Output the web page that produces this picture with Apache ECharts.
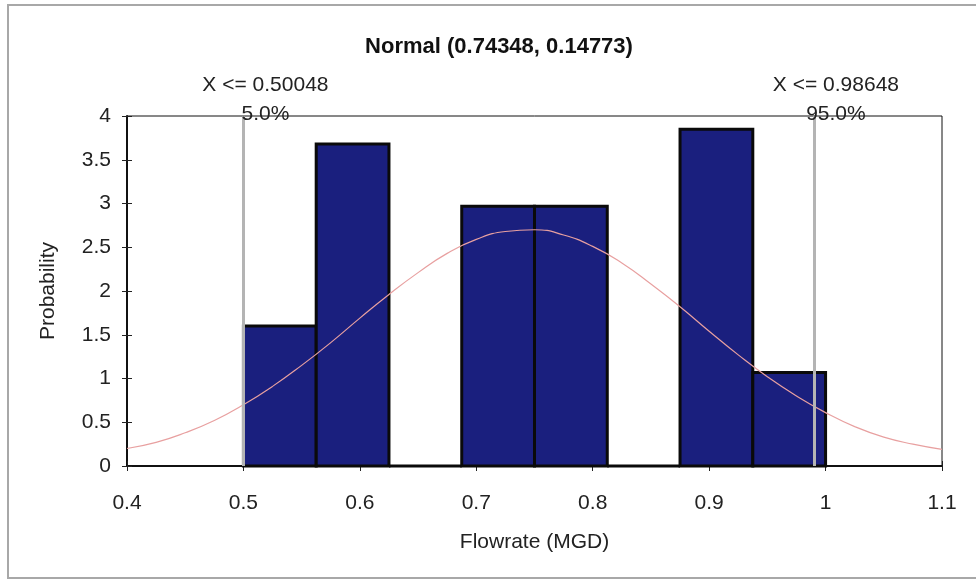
<!DOCTYPE html>
<html>
<head>
<meta charset="utf-8">
<script src="https://cdn.jsdelivr.net/npm/echarts@6/dist/echarts.min.js"></script>
<style>
  html, body { margin: 0; padding: 0; background: #fff; }
  #chart { width: 976px; height: 581px; }
</style>
</head>
<body>
<div id="chart"></div>
<script>
// histogram bins (edges) and their probability density
var binEdges = [0.5, 0.5625, 0.625, 0.6875, 0.75, 0.8125, 0.875, 0.9375, 1.0];
var binProb = [1.6, 3.68, 0, 2.97, 2.97, 0, 3.85, 1.07];

// fitted normal curve
var curveX = [0.4, 0.425, 0.45, 0.475, 0.5, 0.525, 0.55, 0.575, 0.6, 0.625, 0.65, 0.675, 0.7, 0.725,
  0.75, 0.775, 0.8, 0.825, 0.85, 0.875, 0.9, 0.925, 0.95, 0.975, 1.0, 1.025, 1.05, 1.075, 1.1];
var curveY = [0.2, 0.27, 0.38, 0.52, 0.7, 0.91, 1.15, 1.41, 1.69, 1.96, 2.21, 2.43, 2.59, 2.68,
  2.7, 2.64, 2.51, 2.32, 2.08, 1.82, 1.54, 1.27, 1.02, 0.8, 0.61, 0.45, 0.33, 0.25, 0.19];

// percentile cut lines
var cutX = [0.50048, 0.98648];
var cutLabels = ["X <= 0.50048\n5.0%", "X <= 0.98648\n95.0%"];

var chart = echarts.init(document.getElementById("chart"));

var bins = binProb.map(function (p, i) {
  return [binEdges[i], binEdges[i + 1], p];
});
var curve = curveX.map(function (x, i) {
  return [x, curveY[i]];
});

var font = "Liberation Sans, Arial, sans-serif";

chart.setOption({
  animation: false,
  textStyle: { fontFamily: font },
  title: {
    text: "Normal (0.74348, 0.14773)",
    left: 494,
    textAlign: "center",
    top: 31,
    textStyle: { fontSize: 22, fontWeight: "bold", color: "#111", fontFamily: font },
  },
  graphic: [
    {
      type: "rect",
      shape: { x: 8, y: 5, width: 1000, height: 573 },
      style: { fill: null, stroke: "#a8a8a8", lineWidth: 2 },
      silent: true,
      z: -10,
    },
  ],
  grid: {
    left: 127,
    right: 34,
    top: 116,
    bottom: 115,
    show: true,
    borderColor: "#111",
    borderWidth: 1,
  },
  xAxis: [
    {
      type: "value",
      min: 0.4,
      max: 1.1,
      interval: 0.1,
      name: "Flowrate (MGD)",
      nameLocation: "middle",
      nameGap: 66,
      nameTextStyle: { fontSize: 21, color: "#222" },
      axisLine: { lineStyle: { color: "#111", width: 2 } },
      axisTick: { length: 5, lineStyle: { color: "#222" } },
      axisLabel: {
        fontSize: 21,
        color: "#222",
        margin: 27,
        formatter: function (v) { return +v.toFixed(1) + ""; },
      },
      splitLine: { show: false },
    },
    {
      type: "value",
      position: "bottom",
      min: 0.4,
      max: 1.1,
      interval: 0.1,
      axisLine: { show: false },
      axisTick: { inside: true, length: 5, lineStyle: { color: "#222" } },
      axisLabel: { show: false },
      splitLine: { show: false },
    },
  ],
  yAxis: [
    {
      type: "value",
      min: 0,
      max: 4,
      interval: 0.5,
      name: "Probability",
      nameLocation: "middle",
      nameGap: 68,
      nameTextStyle: { fontSize: 21, color: "#222" },
      axisLine: { show: true, lineStyle: { color: "#111", width: 2 } },
      axisTick: { show: true, length: 5, lineStyle: { color: "#222" } },
      axisLabel: { fontSize: 21, color: "#222", margin: 16 },
      splitLine: { show: false },
    },
    {
      type: "value",
      position: "left",
      min: 0,
      max: 4,
      interval: 0.5,
      axisLine: { show: false },
      axisTick: { show: true, inside: true, length: 5, lineStyle: { color: "#222" } },
      axisLabel: { show: false },
      splitLine: { show: false },
    },
  ],
  series: [
    {
      type: "custom",
      name: "histogram",
      data: bins,
      encode: { x: [0, 1], y: 2 },
      renderItem: function (params, api) {
        var p0 = api.coord([api.value(0), api.value(2)]);
        var p1 = api.coord([api.value(1), 0]);
        return {
          type: "rect",
          shape: { x: p0[0], y: p0[1], width: p1[0] - p0[0], height: p1[1] - p0[1] },
          style: { fill: "#1a1f7e", stroke: "#0a0a0a", lineWidth: 3 },
        };
      },
      z: 2,
    },
    {
      type: "line",
      name: "Normal",
      data: curve,
      smooth: true,
      symbol: "none",
      lineStyle: { color: "#e8a0a0", width: 1.2 },
      z: 3,
    },
    {
      type: "line",
      name: "cuts",
      data: [],
      z: 4,
      markLine: {
        silent: true,
        symbol: "none",
        animation: false,
        lineStyle: { color: "#b4b4b4", width: 3, type: "solid" },
        label: {
          show: true,
          position: "end",
          distance: 0,
          offset: [22, 13],
          fontSize: 21,
          lineHeight: 29,
          color: "#222",
          fontFamily: font,
          formatter: function (p) { return p.name; },
        },
        data: cutX.map(function (x, i) {
          return { name: cutLabels[i], xAxis: x };
        }),
      },
    },
  ],
});
</script>
</body>
</html>
